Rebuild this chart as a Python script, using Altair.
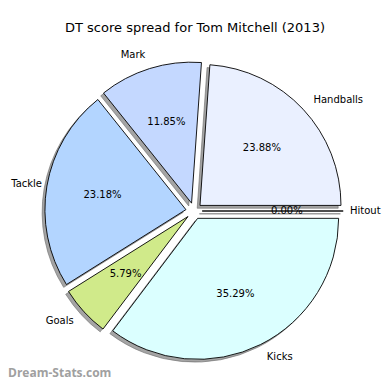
import altair as alt
import pandas as pd

# Data (matplotlib order: counter-clockwise from 3 o'clock)
labels = ["Handballs", "Mark", "Tackle", "Goals", "Kicks", "Hitout"]
values = [23.88, 11.85, 23.18, 5.79, 35.29, 0.00]
colors = ["#eaf0ff", "#c4d8ff", "#b3d5ff", "#d0ea8a", "#dbffff", "#ffffff"]

df = pd.DataFrame({"label": labels, "v": values, "idx": list(range(len(labels)))})

# layout constants (pixels inside the plot area)
CX, CY, R, E, SH = 186, 203, 141, 8.2, 2.8
LMIN, RMAX = 34, 342  # keep outer labels inside the canvas

base = alt.Chart(df).transform_window(
    cum="sum(v)", sort=[alt.SortField("idx")], frame=[None, 0]
).transform_joinaggregate(total="sum(v)").transform_calculate(
    phi0="(datum.cum - datum.v) / datum.total * 2 * PI",
    phi1="datum.cum / datum.total * 2 * PI",
).transform_calculate(
    mid="(datum.phi0 + datum.phi1) / 2",
    t1="PI / 2 - datum.phi1",
    t2="PI / 2 - datum.phi0",
).transform_calculate(
    ex=f"{CX} + {E} * cos(datum.mid)",
    ey=f"{CY} - {E} * sin(datum.mid)",
).transform_calculate(
    sx=f"datum.ex - {SH}",
    sy=f"datum.ey + {SH}",
    lx0=f"datum.ex + {1.1 * R} * cos(datum.mid)",
    ly=f"datum.ey - {1.1 * R} * sin(datum.mid)",
    px=f"datum.ex + {0.6 * R} * cos(datum.mid)",
    py=f"datum.ey - {0.6 * R} * sin(datum.mid)",
    pct="format(datum.v / datum.total * 100, '.2f') + '%'",
    side="cos(datum.mid) >= 0 ? 'r' : 'l'",
).transform_calculate(
    lx=f"datum.side == 'r' ? min(datum.lx0, {RMAX}) : max(datum.lx0, {LMIN})",
)

shadow = base.mark_arc(outerRadius=R, fill="#4a4a4a", fillOpacity=0.5,
                       stroke="#6a6a6a", strokeOpacity=0.6, strokeWidth=1).encode(
    x=alt.X("sx:Q", scale=None, axis=None),
    y=alt.Y("sy:Q", scale=None, axis=None),
    theta=alt.Theta("t1:Q", scale=None, stack=None),
    theta2="t2:Q",
)

wedges = base.mark_arc(outerRadius=R, stroke="black", strokeWidth=0.9).encode(
    x=alt.X("ex:Q", scale=None, axis=None),
    y=alt.Y("ey:Q", scale=None, axis=None),
    theta=alt.Theta("t1:Q", scale=None, stack=None),
    theta2="t2:Q",
    color=alt.Color("label:N", scale=alt.Scale(domain=labels, range=colors), legend=None),
)

lab_right = base.transform_filter("datum.side == 'r'").mark_text(
    align="left", baseline="middle", font="DejaVu Sans", fontSize=10, color="black"
).encode(
    x=alt.X("lx:Q", scale=None, axis=None),
    y=alt.Y("ly:Q", scale=None, axis=None),
    text="label:N",
)
lab_left = base.transform_filter("datum.side == 'l'").mark_text(
    align="right", baseline="middle", font="DejaVu Sans", fontSize=10, color="black"
).encode(
    x=alt.X("lx:Q", scale=None, axis=None),
    y=alt.Y("ly:Q", scale=None, axis=None),
    text="label:N",
)
pcts = base.mark_text(
    align="center", baseline="middle", font="DejaVu Sans", fontSize=10, color="black"
).encode(
    x=alt.X("px:Q", scale=None, axis=None),
    y=alt.Y("py:Q", scale=None, axis=None),
    text="pct:N",
)

watermark = alt.Chart(pd.DataFrame({"t": ["Dream-Stats.com"]})).mark_text(
    align="left", baseline="alphabetic", font="Open Sans", fontSize=12,
    fontWeight="bold", color="#a0a0a0"
).encode(
    x=alt.value(0), y=alt.value(369), text="t:N"
)

chart = alt.layer(shadow, wedges, lab_right, lab_left, pcts, watermark).properties(
    width=374, height=374,
    title=alt.TitleParams(
        "DT score spread for Tom Mitchell (2013)",
        font="DejaVu Sans", fontSize=13, fontWeight="normal", color="black",
        anchor="middle", dy=31,
    ),
    autosize=alt.AutoSizeParams(type="none"),
    padding=0,
).configure_view(stroke=None)

chart.save("out.html", embed_options={"renderer": "svg", "actions": False})
